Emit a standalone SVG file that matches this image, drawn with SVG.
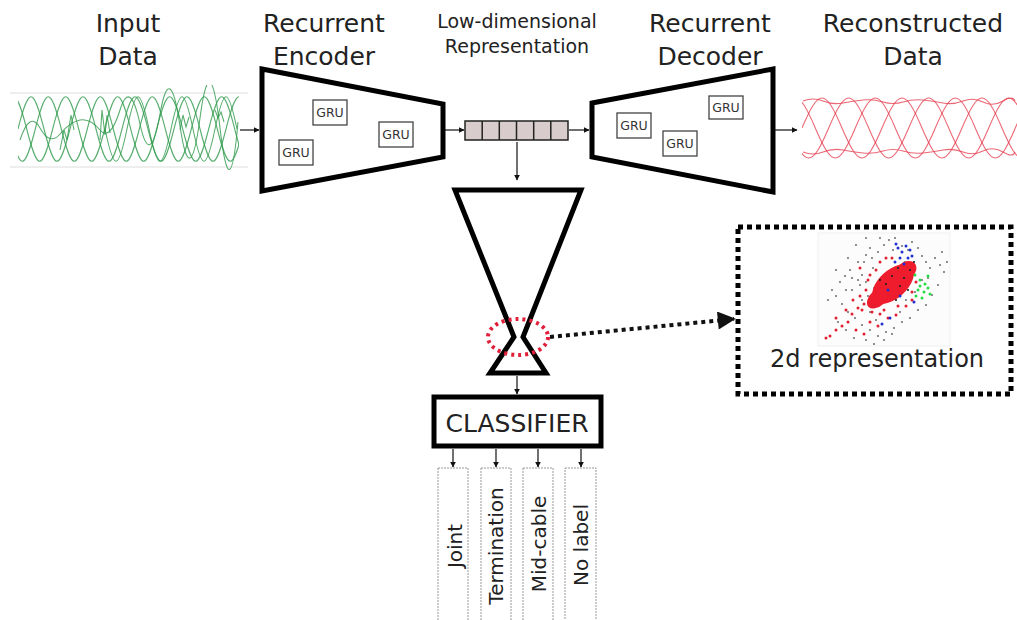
<svg xmlns="http://www.w3.org/2000/svg" width="1017" height="620" viewBox="0 0 1017 620">
<defs>
<marker id="ah" viewBox="0 0 10 10" refX="9" refY="5" markerWidth="6" markerHeight="6" markerUnits="userSpaceOnUse" orient="auto"><path d="M0,0 L10,5 L0,10 z" fill="#111"/></marker>
<marker id="ahBig" viewBox="0 0 10 10" refX="9" refY="5" markerWidth="20" markerHeight="18" markerUnits="userSpaceOnUse" orient="auto"><path d="M0,0 L10,5 L0,10 z" fill="#111"/></marker>
<clipPath id="redclip"><rect x="802" y="85" width="215" height="85"/></clipPath>
<clipPath id="greenclip"><rect x="18" y="85" width="221" height="85"/></clipPath>
<style>
.lbl{font-family:"DejaVu Sans","Liberation Sans",sans-serif;fill:#222;text-anchor:middle}
.big{font-size:25px}
.mid{font-size:19px}
.gru{font-family:"DejaVu Sans","Liberation Sans",sans-serif;font-size:12.5px;fill:#333;text-anchor:middle}
.gbox{fill:#fff;stroke:#444;stroke-width:1.3}
.thick{fill:#fff;stroke:#000;stroke-width:5;stroke-linejoin:miter}
.conn{stroke:#111;stroke-width:1.2;fill:none;marker-end:url(#ah)}
.cls{fill:#fff;stroke:#999;stroke-width:1;stroke-dasharray:2 1}
.rot{font-family:"DejaVu Sans","Liberation Sans",sans-serif;font-size:20px;fill:#222;text-anchor:middle}
.gw{fill:none;stroke:#2f9a4c;stroke-width:1.1;opacity:.8}
.rw{fill:none;stroke:#e53548;stroke-width:1.1;opacity:.75}
</style>
</defs>
<rect width="1017" height="620" fill="#fff"/>

<g id="titles">
<text class="lbl big" x="128" y="32">Input</text>
<text class="lbl big" x="128" y="65">Data</text>
<text class="lbl big" x="324" y="32">Recurrent</text>
<text class="lbl big" x="324" y="65">Encoder</text>
<text class="lbl mid" x="517" y="28">Low-dimensional</text>
<text class="lbl mid" x="517" y="53">Representation</text>
<text class="lbl big" x="710" y="32">Recurrent</text>
<text class="lbl big" x="710" y="65">Decoder</text>
<text class="lbl big" x="913" y="32">Reconstructed</text>
<text class="lbl big" x="913" y="65">Data</text>
</g>

<g id="input-data">
<line x1="10" y1="93" x2="248" y2="93" stroke="#ddd" stroke-width="1"/>
<line x1="10" y1="167" x2="248" y2="167" stroke="#ddd" stroke-width="1"/>
<g clip-path="url(#greenclip)">
<path class="gw" d="M18,129 c11,-43 15,-43 26,0 s15,43 26,0 s15,-43 26,0 s15,43 26,0 s15,-43 26,0 s15,43 26,0 s15,-43 26,0 s15,43 26,0 s15,-43 26,0"/>
<path class="gw" d="M0.7,129 c11,-43 15,-43 26,0 s15,43 26,0 s15,-43 26,0 s15,43 26,0 s15,-43 26,0 s15,43 26,0 s15,-43 26,0 s15,43 26,0 s15,-43 26,0 s15,43 26,0"/>
<path class="gw" d="M-16.7,129 c11,-43 15,-43 26,0 s15,43 26,0 s15,-43 26,0 s15,43 26,0 s15,-43 26,0 s15,43 26,0 s15,-43 26,0 s15,43 26,0 s15,-43 26,0 s15,43 26,0 s15,-43 26,0"/>
<path class="gw" d="M105,129 c9,43 13,43 22,0 s13,-43 22,0 s13,43 22,0 s13,-43 22,0 s13,43 22,0 s13,-43 22,0"/>
<path class="gw" d="M20,140 q10,-30 20,-12 t20,6 t20,-14 t20,10 t20,-20 t20,14 t20,-10 t20,12 t20,-8 t20,10 t18,-6"/>
<path class="gw" d="M60,150 l4,-20 l3,10 l4,-25 l3,15 M100,140 l2,-30 l3,25 l2,-20 l3,18 M180,130 l3,-15 l3,12 l3,-10 M215,110 l3,8 l3,-6 l3,10"/>
</g>
</g>

<g id="encoder">
<polygon class="thick" points="262,69 443,104 443,157 262,191"/>
<rect class="gbox" x="313" y="100" width="34" height="25"/>
<text class="gru" x="330" y="117">GRU</text>
<rect class="gbox" x="379" y="122" width="34" height="25"/>
<text class="gru" x="396" y="139">GRU</text>
<rect class="gbox" x="279" y="140" width="34" height="25"/>
<text class="gru" x="296" y="157">GRU</text>
</g>

<g id="latent">
<rect x="465" y="121" width="103" height="19" fill="#d9cccc" stroke="#222" stroke-width="1.5"/>
<path d="M482.2,121 v19 M499.3,121 v19 M516.5,121 v19 M533.7,121 v19 M550.8,121 v19" stroke="#222" stroke-width="1.5"/>
</g>

<g id="decoder">
<polygon class="thick" points="592,103 773,69 773,192 592,157"/>
<rect class="gbox" x="617" y="113" width="34" height="25"/>
<text class="gru" x="634" y="130">GRU</text>
<rect class="gbox" x="663" y="131" width="34" height="25"/>
<text class="gru" x="680" y="148">GRU</text>
<rect class="gbox" x="709" y="96" width="34" height="23"/>
<text class="gru" x="726" y="112">GRU</text>
</g>

<g id="reconstructed-data">
<g clip-path="url(#redclip)">
<path class="rw" d="M802,128 c17,-40 23,-40 40,0 s23,40 40,0 s23,-40 40,0 s23,40 40,0 s23,-40 40,0 s23,40 40,0"/>
<path class="rw" d="M775.3,128 c17,-40 23,-40 40,0 s23,40 40,0 s23,-40 40,0 s23,40 40,0 s23,-40 40,0 s23,40 40,0 s23,-40 40,0"/>
<path class="rw" d="M748.7,128 c17,-40 23,-40 40,0 s23,40 40,0 s23,-40 40,0 s23,40 40,0 s23,-40 40,0 s23,40 40,0 s23,-40 40,0 s23,40 40,0"/>
<path class="rw" d="M803,101 q10,-4 20,0 t20,2 t20,-3 t20,2 t20,0 t20,-2 t20,3 t20,-2 t20,1 t20,-1 t12,0"/>
<path class="rw" d="M803,152 q10,4 20,0 t20,-2 t20,3 t20,-2 t20,0 t20,2 t20,-3 t20,2 t20,-1 t20,1 t12,0"/>
</g>
</g>

<g id="hourglass">
<polygon class="thick" points="455,190 581,190 523,337 546,373 490,373 514,337"/>
<ellipse cx="518" cy="337" rx="30" ry="18" fill="none" stroke="#e0203a" stroke-width="4" stroke-dasharray="3 4"/>
</g>

<g id="representation">
<rect x="738" y="227" width="273" height="167" fill="#fff" stroke="#000" stroke-width="5" stroke-dasharray="5 4"/>
<rect x="818" y="233" width="132" height="113" fill="#fcfcfc" stroke="#f0f0f0" stroke-width="1"/>
<path fill="none" stroke="#777" stroke-width="2.2" stroke-linecap="round" d="M840,282h0M845,276h0M850,270h0M852,290h0M858,262h0M862,275h0M866,255h0M870,248h0M873,268h0M878,252h0M884,245h0M889,240h0M895,238h0M902,246h0M908,250h0M912,242h0M918,248h0M922,256h0M926,262h0M930,268h0M935,258h0M940,265h0M944,272h0M938,285h0M932,295h0M926,305h0M918,310h0M910,318h0M902,322h0M894,328h0M886,332h0M878,336h0M870,330h0M862,325h0M855,318h0M848,312h0M842,304h0M836,296h0M832,290h0M828,300h0M838,322h0M846,330h0M854,338h0M866,340h0M874,344h0M884,340h0M892,334h0M900,312h0M906,300h0M915,292h0M922,280h0M928,278h0M942,252h0M947,262h0M836,270h0M848,258h0M856,245h0M866,238h0M880,238h0M893,250h0M905,262h0M862,300h0M870,312h0M876,320h0M883,300h0M896,290h0M889,275h0M874,288h0M868,296h0M860,285h0M852,278h0M846,290h0M864,262h0M872,258h0M858,280h0M866,282h0"/>
<g fill="#ee1c2c">
<ellipse cx="893" cy="284" rx="25" ry="14" transform="rotate(-42 893 284)"/>
<ellipse cx="878" cy="298" rx="13" ry="8" transform="rotate(-42 878 298)"/>
<ellipse cx="905" cy="272" rx="13" ry="9" transform="rotate(-42 905 272)"/>
</g>
<path fill="none" stroke="#e0202e" stroke-width="3" stroke-linecap="round" d="M826,338h0M830,336h0M836,330h0M842,326h0M848,322h0M852,314h0M858,308h0M864,304h0M836,318h0M846,310h0M853,300h0M860,296h0M866,290h0M872,312h0M870,322h0M878,326h0M888,318h0M896,315h0M870,275h0M876,270h0M880,262h0M886,258h0M860,268h0M912,300h0M906,306h0M856,330h0M864,334h0M884,310h0M868,280h0M874,306h0M880,314h0M916,282h0M912,292h0M892,258h0M898,306h0M862,310h0"/>
<path fill="none" stroke="#2030d0" stroke-width="3" stroke-linecap="round" d="M898,248h0M902,252h0M906,246h0M900,258h0M908,258h0M895,262h0M910,250h0M904,264h0M896,244h0M912,256h0M890,318h0M882,324h0M914,302h0M900,296h0M888,290h0"/>
<path fill="none" stroke="#22dd44" stroke-width="3" stroke-linecap="round" d="M915,275h0M920,280h0M925,284h0M918,290h0M924,292h0M928,288h0M922,298h0M916,296h0M928,276h0M930,294h0M920,286h0"/>
<path fill="none" stroke="#222" stroke-width="2.2" stroke-linecap="round" d="M898,268h0M904,278h0M910,270h0M892,276h0M886,284h0M900,286h0M914,262h0M880,280h0M896,300h0M908,290h0"/>
<text class="lbl" style="font-size:24px" x="877" y="367">2d representation</text>
</g>

<g id="classifier">
<rect x="434" y="397" width="167" height="49" fill="#fff" stroke="#000" stroke-width="5"/>
<text class="lbl" style="font-size:25px" x="517" y="432">CLASSIFIER</text>
</g>

<g id="class-joint">
<rect class="cls" x="438" y="468" width="30" height="160"/>
<text class="rot" transform="translate(462,546) rotate(-90)">Joint</text>
</g>
<g id="class-termination">
<rect class="cls" x="481" y="468" width="30" height="160"/>
<text class="rot" transform="translate(503,546) rotate(-90)">Termination</text>
</g>
<g id="class-midcable">
<rect class="cls" x="523" y="468" width="30" height="160"/>
<text class="rot" transform="translate(546,544) rotate(-90)">Mid-cable</text>
</g>
<g id="class-nolabel">
<rect class="cls" x="565" y="468" width="31" height="160"/>
<text class="rot" transform="translate(588,545) rotate(-90)">No label</text>
</g>

<g id="connectors">
<line class="conn" x1="240" y1="130" x2="259" y2="130"/>
<line class="conn" x1="445" y1="130" x2="464" y2="130"/>
<line class="conn" x1="569" y1="130" x2="589" y2="130"/>
<line class="conn" x1="775" y1="130" x2="797" y2="130"/>
<line class="conn" x1="517" y1="142" x2="517" y2="180"/>
<line class="conn" x1="517" y1="376" x2="517" y2="394"/>
<line class="conn" x1="453" y1="449" x2="453" y2="467"/>
<line class="conn" x1="496" y1="449" x2="496" y2="467"/>
<line class="conn" x1="538" y1="449" x2="538" y2="467"/>
<line class="conn" x1="581" y1="449" x2="581" y2="467"/>
<line x1="550" y1="337" x2="734" y2="319" stroke="#111" stroke-width="4" stroke-dasharray="4 4" marker-end="url(#ahBig)"/>
</g>
</svg>
